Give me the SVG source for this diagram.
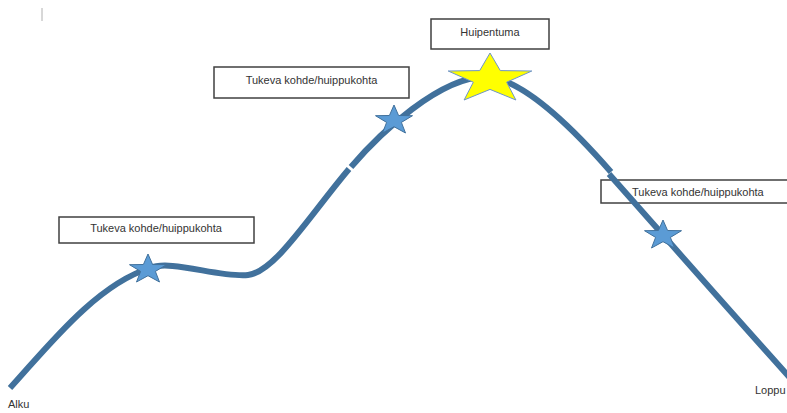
<svg xmlns="http://www.w3.org/2000/svg" xmlns:xlink="http://www.w3.org/1999/xlink" width="787" height="413" viewBox="0 0 787 413">
<style>
.box{fill:#ffffff;stroke:#404040;stroke-width:1.5}
.lbl{font-family:"Liberation Sans",Arial,sans-serif;font-size:11px;fill:#333333}
.curve{fill:none;stroke:#41719C;stroke-width:6;stroke-linecap:butt}
.bstar{fill:#5B9BD5;stroke:#41719C;stroke-width:1}
.ystar{fill:#FFFF00;stroke:#6F95C8;stroke-width:1}
</style>
<defs>
<path id="bs" d="M0,-15.5 L4.6,-5 L18.5,-4.8 L7.4,1.9 L11.5,12.5 L0,6.2 L-11.5,12.5 L-7.4,1.9 L-18.5,-4.8 L-4.6,-5 Z"/>
</defs>
<rect width="787" height="413" fill="#ffffff"/>
<line x1="42" y1="8" x2="42" y2="21" stroke="#b0b0b0" stroke-width="1"/>
<g id="box-right">
<rect class="box" x="601" y="180" width="195" height="23"/>
<text class="lbl" x="632" y="196">Tukeva kohde/huippukohta</text>
</g>
<g id="connectors">
<path class="curve" d="M10,388 C45,350 95,285 150,268 C170,259 220,278 248,275 C275,272 310,215 349,169"/>
<path class="curve" d="M351,167 C380,133 440,77 485,77 C520,77 570,125 611,172"/>
<path class="curve" d="M609,174 C650,220 720,300 792,380"/>
</g>
<g id="box-peak">
<rect class="box" x="431" y="19" width="118" height="30"/>
<text class="lbl" x="490" y="36" text-anchor="middle">Huipentuma</text>
</g>
<g id="box-mid">
<rect class="box" x="214" y="67" width="195" height="31"/>
<text class="lbl" x="311.5" y="84" text-anchor="middle">Tukeva kohde/huippukohta</text>
</g>
<g id="box-left">
<rect class="box" x="59" y="217" width="195" height="26"/>
<text class="lbl" x="156" y="232" text-anchor="middle">Tukeva kohde/huippukohta</text>
</g>
<g id="star-1"><use xlink:href="#bs" class="bstar" x="148" y="269.5"/></g>
<g id="star-2"><use xlink:href="#bs" class="bstar" x="394" y="120.5"/></g>
<g id="star-3"><use xlink:href="#bs" class="bstar" x="663" y="235.5"/></g>
<g id="star-peak">
<path class="ystar" transform="translate(490,79)" d="M0,-26 L10.3,-8.4 L41.8,-8 L16.7,3.2 L25.9,21 L0,10.4 L-25.9,21 L-16.7,3.2 L-41.8,-8 L-10.3,-8.4 Z"/>
</g>
<g id="label-start"><text class="lbl" x="8" y="408">Alku</text></g>
<g id="label-end"><text class="lbl" x="755" y="394">Loppu</text></g>
</svg>
